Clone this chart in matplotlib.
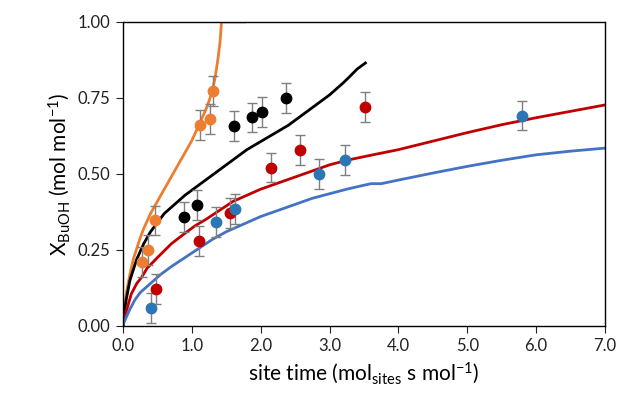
import numpy as np
from matplotlib import pyplot as plt

plt.rcParams['font.family'] = ['Lato', 'DejaVu Sans']
plt.rcParams['mathtext.fontset'] = 'custom'
plt.rcParams['mathtext.rm'] = 'Lato'
plt.rcParams['mathtext.it'] = 'Lato:italic'

# Measured points (site time, conversion), error +/- 0.05
orange_x = [0.28, 0.36, 0.47, 1.12, 1.26, 1.31]
orange_y = [0.21, 0.249, 0.347, 0.662, 0.682, 0.774]
black_x = [0.89, 1.07, 1.61, 1.87, 2.02, 2.36]
black_y = [0.359, 0.397, 0.659, 0.686, 0.705, 0.751]
red_x = [0.48, 1.11, 1.56, 2.15, 2.57, 3.52]
red_y = [0.122, 0.28, 0.371, 0.521, 0.579, 0.721]
blue_x = [0.41, 1.35, 1.62, 2.84, 3.23, 5.80]
blue_y = [0.06, 0.343, 0.386, 0.501, 0.545, 0.692]
err = 0.049

# Model curves
orange_fit_x = [0, 0.01, 0.02, 0.05, 0.1, 0.15, 0.2, 0.25, 0.3, 0.35, 0.4, 0.45, 0.5, 0.55, 0.6, 0.65,
                0.7, 0.75, 0.8, 0.85, 0.9, 0.95, 1.0, 1.05, 1.1, 1.15, 1.2, 1.25, 1.3, 1.34, 1.38, 1.41, 1.43, 1.77]
orange_fit_y = [0, 0.04, 0.06, 0.11, 0.17, 0.22, 0.255, 0.29, 0.32, 0.345, 0.37, 0.39, 0.41, 0.43, 0.45, 0.47,
                0.49, 0.51, 0.53, 0.55, 0.57, 0.59, 0.61, 0.635, 0.66, 0.685, 0.71, 0.74, 0.775, 0.82, 0.88, 0.935, 1.0, 1.0]
black_fit_x = [0, 0.01, 0.02, 0.05, 0.1, 0.2, 0.3, 0.4, 0.5, 0.6, 0.75, 0.9, 1.05, 1.2, 1.35, 1.5, 1.65,
               1.8, 1.95, 2.1, 2.25, 2.4, 2.55, 2.7, 2.85, 3.0, 3.1, 3.2, 3.3, 3.4, 3.52]
black_fit_y = [0, 0.03, 0.05, 0.09, 0.15, 0.22, 0.27, 0.31, 0.34, 0.37, 0.40, 0.43, 0.455, 0.48, 0.505, 0.53, 0.555,
               0.58, 0.60, 0.62, 0.64, 0.66, 0.685, 0.71, 0.735, 0.76, 0.78, 0.80, 0.822, 0.845, 0.865]
red_fit_x = [0, 0.01, 0.02, 0.05, 0.12, 0.2, 0.27, 0.35, 0.5, 0.7, 0.9, 1.05, 1.2, 1.4, 1.6, 1.8, 2.0,
             2.25, 2.5, 2.75, 3.0, 3.25, 3.5, 4.0, 4.5, 5.0, 5.5, 6.0, 6.5, 7.0]
red_fit_y = [0, 0.015, 0.025, 0.05, 0.105, 0.14, 0.16, 0.19, 0.225, 0.27, 0.305, 0.33, 0.35, 0.38, 0.41, 0.43, 0.45,
             0.47, 0.49, 0.51, 0.53, 0.545, 0.557, 0.58, 0.608, 0.636, 0.662, 0.685, 0.706, 0.727]
blue_fit_x = [0, 0.01, 0.02, 0.05, 0.1, 0.17, 0.25, 0.4, 0.55, 0.7, 0.9, 1.1, 1.3, 1.5, 1.75, 2.0, 2.25,
              2.5, 2.75, 3.0, 3.25, 3.5, 3.6, 3.75, 4.0, 4.5, 5.0, 5.5, 6.0, 6.5, 7.0]
blue_fit_y = [0, 0.01, 0.015, 0.03, 0.055, 0.085, 0.11, 0.14, 0.17, 0.195, 0.225, 0.255, 0.285, 0.31, 0.335, 0.36, 0.38,
              0.40, 0.42, 0.435, 0.45, 0.463, 0.468, 0.468, 0.48, 0.503, 0.525, 0.545, 0.563, 0.575, 0.585]

fig = plt.figure(figsize=(6.19, 3.99), dpi=100)
ax = fig.add_axes([0.1987, 0.183, 0.7787, 0.762])

ax.plot(orange_fit_x, orange_fit_y, color='#ED7D31', lw=2, zorder=2)
ax.plot(black_fit_x, black_fit_y, color='black', lw=2, zorder=2)
ax.plot(red_fit_x, red_fit_y, color='#C00000', lw=2, zorder=2)
ax.plot(blue_fit_x, blue_fit_y, color='#4472C4', lw=2, zorder=2)

for xs, ys, c in [(orange_x, orange_y, '#ED7D31'), (black_x, black_y, 'black'),
                  (red_x, red_y, '#C00000'), (blue_x, blue_y, '#2E75B6')]:
    ax.errorbar(xs, ys, yerr=err, fmt='o', ms=7.5, color=c, ecolor='#7f7f7f',
                elinewidth=1, capsize=3.5, capthick=1, zorder=3)

ax.set_xlim(0, 7)
ax.set_ylim(0, 1)
ax.set_xticks(np.arange(0, 7.5, 1))
ax.set_xticklabels(['%.1f' % v for v in np.arange(0, 7.5, 1)])
ax.set_yticks(np.arange(0, 1.01, 0.25))
ax.set_yticklabels(['%.2f' % v for v in np.arange(0, 1.01, 0.25)])
ax.tick_params(direction='out', length=5, labelsize=12, colors='#222222', pad=4)
for s in ax.spines.values():
    s.set_linewidth(1)

ax.set_xlabel(r'site time (mol$_{\mathrm{sites}}$ s mol$^{\mathrm{-1}}$)', fontsize=15)
ax.set_ylabel(r'X$_{\mathrm{BuOH}}$ (mol mol$^{\mathrm{-1}}$)', fontsize=15)

fig.savefig('out.png', dpi=100)
